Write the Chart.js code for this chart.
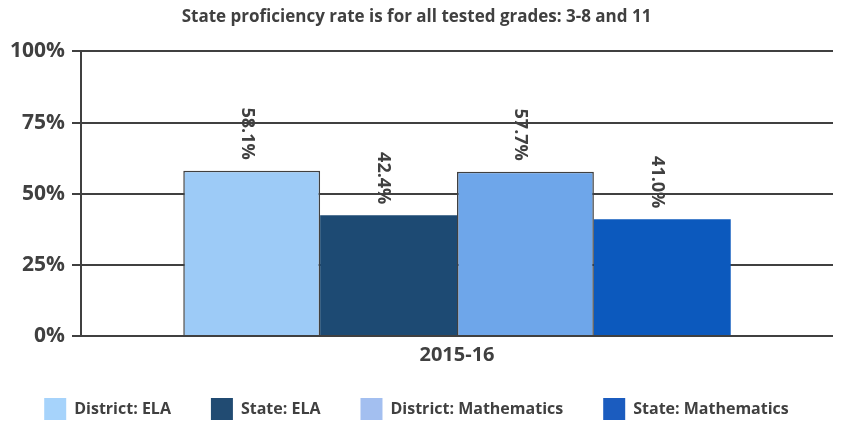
<!DOCTYPE html>
<html>
<head>
<meta charset="utf-8">
<script src="https://cdn.jsdelivr.net/npm/chart.js@4"></script>
<style>
  body { margin: 0; background: #fff; }
</style>
</head>
<body>
<canvas id="proficiencyChart" width="851" height="421"></canvas>
<script>
// values
const years = ['2015-16'];
const seriesNames = ['District: ELA', 'State: ELA', 'District: Mathematics', 'State: Mathematics'];
const districtEla = [58.1];
const stateEla = [42.4];
const districtMath = [57.7];
const stateMath = [41.0];
const yTicks = [0, 25, 50, 75, 100];

const barColors = ['#9dcbf7', '#1d4a73', '#6ea6ea', '#0c59bd'];
const legendColors = ['#a6d3fb', '#214b72', '#a3bff0', '#1b5cbf'];
const ink = '#404040';
const legendGap = 40;

// rotated value labels above the bars
const valueLabels = {
  id: 'valueLabels',
  afterDatasetsDraw(chart) {
    const ctx = chart.ctx;
    ctx.save();
    ctx.fillStyle = ink;
    ctx.font = 'bold 18px "Open Sans"';
    chart.data.datasets.forEach(function(ds, i) {
      chart.getDatasetMeta(i).data.forEach(function(bar, j) {
        ctx.save();
        ctx.translate(bar.x - 5, bar.y - 11);
        ctx.rotate(Math.PI / 2);
        ctx.textAlign = 'right';
        ctx.textBaseline = 'middle';
        ctx.fillText(ds.data[j].toFixed(1) + '%', 0, 0);
        ctx.restore();
      });
    });
    ctx.restore();
  }
};

// keep the wide legend spacing without it eating the plot height
const legendSpot = {
  id: 'legendSpot',
  afterInit(chart) {
    const lg = chart.legend;
    const fit = lg.fit;
    lg.fit = function() {
      fit.call(this);
      this.height = 47;
    };
  },
  afterLayout(chart) {
    const lg = chart.legend;
    lg.top = 398 - legendGap;
    lg.bottom = 421;
    lg.height = lg.bottom - lg.top;
  }
};

const sets = [districtEla, stateEla, districtMath, stateMath].map(function(vals, i) {
  return {
    label: seriesNames[i],
    data: vals,
    backgroundColor: barColors[i],
    borderColor: ink,
    borderWidth: i % 2 === 0 ? 1.5 : 0,
    categoryPercentage: 0.728,
    barPercentage: 1.0
  };
});

new Chart(document.getElementById('proficiencyChart'), {
  type: 'bar',
  data: { labels: years, datasets: sets },
  plugins: [valueLabels, legendSpot],
  options: {
    responsive: false,
    animation: false,
    layout: { padding: { left: 0, right: 18, top: 0, bottom: 0 } },
    plugins: {
      title: {
        display: true,
        text: 'State proficiency rate is for all tested grades: 3-8 and 11',
        color: ink,
        font: { family: 'Open Sans', size: 17, weight: 'bold' },
        padding: { top: 7, bottom: 24 }
      },
      legend: {
        position: 'bottom',
        labels: {
          color: ink,
          font: { family: 'Open Sans', size: 16, weight: 'bold' },
          boxWidth: 22,
          boxHeight: 22,
          padding: legendGap,
          generateLabels: function(chart) {
            return chart.data.datasets.map(function(ds, i) {
              return {
                text: ds.label,
                fillStyle: legendColors[i],
                strokeStyle: legendColors[i],
                lineWidth: 0,
                fontColor: ink,
                datasetIndex: i
              };
            });
          }
        }
      },
      tooltip: { enabled: false }
    },
    scales: {
      x: {
        grid: { display: false, drawTicks: false, tickLength: 0 },
        border: { display: false },
        ticks: {
          color: ink,
          padding: 7,
          font: { family: 'Open Sans', size: 20, weight: 'bold' }
        }
      },
      y: {
        min: 0,
        max: 100,
        afterFit: function(axis) { axis.width = 81; },
        afterBuildTicks: function(axis) {
          axis.ticks = yTicks.map(function(v) { return { value: v }; });
        },
        grid: {
          color: ink,
          lineWidth: 2,
          tickLength: 9
        },
        border: { display: true, color: ink, width: 2 },
        ticks: {
          color: ink,
          padding: 7,
          font: { family: 'Open Sans', size: 21, weight: 'bold' },
          callback: function(v) { return v + '%'; }
        }
      }
    }
  }
});
</script>
</body>
</html>
